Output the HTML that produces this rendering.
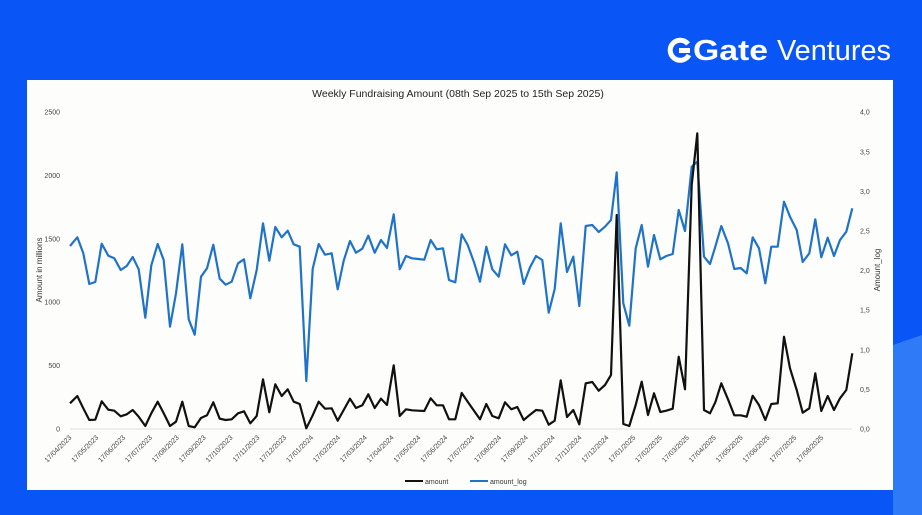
<!DOCTYPE html><html><head><meta charset="utf-8"><style>
body{margin:0;width:922px;height:515px;overflow:hidden;background:#0a55f5;font-family:"Liberation Sans",sans-serif}
</style></head><body>
<svg width="922" height="515" xmlns="http://www.w3.org/2000/svg" style="position:absolute;left:0;top:0">
<rect width="922" height="515" fill="#0a55f5"/>
<polygon points="893,345 922,335 922,515 893,515" fill="#2f7af7"/>
<rect x="27" y="80" width="866" height="410" fill="#fdfdfb"/>
<g fill="#fff">
<path d="M688,44 A10,10 0 1 0 689,55" fill="none" stroke="#fff" stroke-width="5"/>
<rect x="679" y="48" width="11" height="5"/>
<text x="693" y="60" font-size="29" font-weight="bold" textLength="75" lengthAdjust="spacingAndGlyphs">Gate</text>
<text x="777" y="60" font-size="29" textLength="114" lengthAdjust="spacingAndGlyphs">Ventures</text>
</g>
<text x="458" y="97" font-size="10.5" text-anchor="middle" fill="#222">Weekly Fundraising Amount (08th Sep 2025 to 15th Sep 2025)</text>
<g font-size="7" fill="#444" id="ticks"></g>
<text transform="translate(42,270) rotate(-90)" font-size="8" text-anchor="middle" fill="#333">Amount in millions</text>
<text transform="translate(880,270) rotate(-90)" font-size="8" text-anchor="middle" fill="#333">Amount_log</text>
<line x1="70" y1="429" x2="852" y2="429" stroke="#ddd" stroke-width="1"/>
<polyline id="blue" fill="none" stroke="#1f73c8" stroke-width="2.2" stroke-linejoin="round"/>
<polyline id="black" fill="none" stroke="#111" stroke-width="2.2" stroke-linejoin="round"/>
<line x1="405" y1="481" x2="423" y2="481" stroke="#111" stroke-width="2"/>
<text x="425" y="484" font-size="7" fill="#333">amount</text>
<line x1="470" y1="481" x2="488" y2="481" stroke="#1f73c8" stroke-width="2"/>
<text x="490" y="484" font-size="7" fill="#333">amount_log</text>
</svg>
<script>
var ns="http://www.w3.org/2000/svg";
var b3=[[30,198],[52,172],[70,220],[88,312],[106,306],[125,191],[145,227],[163,235],[182,270],[200,258],[218,231],[236,268],[256,413],[274,256],[293,192],[311,240],[330,440],[348,340],[367,193],[386,418],[404,464],[423,290],[441,265],[460,194],[479,296],[497,314],[515,305],[534,250],[552,238],[571,355],[590,270],[609,130],[628,242],[646,141],[665,172],[683,152],[701,193],[719,200],[739,603],[758,266],[776,192]];
var k3=[[30,670],[52,648],[70,685],[88,720],[106,719],[125,664],[145,689],[163,692],[182,709],[200,703],[218,690],[236,710],[256,738],[274,700],[293,665],[311,700],[330,738],[348,725],[367,665],[386,738],[404,742],[423,714],[441,706],[460,667],[479,716],[497,720],[515,718],[534,700],[552,694],[571,730],[590,708],[609,598],[628,697],[646,613],[665,648],[683,628],[701,665],[719,672],[739,745],[758,706],[776,665]];
var b4=[[15,224],[35,220],[53,328],[71,242],[90,183],[108,218],[127,206],[145,167],[164,218],[183,180],[201,204],[221,103],[239,268],[258,228],[276,235],[295,237],[313,239],[332,180],[350,208],[369,205],[387,300],[406,307],[425,163],[443,195],[462,247],[480,305],[499,200],[517,268],[536,290],[555,193],[574,226],[592,215],[611,312],[630,262],[648,228],[667,240],[686,398],[704,327],[722,130],[741,276],[760,230],[778,378]];
var k4=[[15,686],[35,685],[53,722],[71,690],[90,656],[108,684],[127,676],[145,643],[164,684],[183,656],[201,675],[221,556],[239,708],[258,688],[276,691],[295,692],[313,693],[332,655],[350,676],[369,676],[387,718],[406,718],[425,639],[443,665],[462,692],[480,718],[499,672],[517,708],[536,715],[555,667],[574,688],[592,681],[611,720],[630,704],[648,690],[667,692],[686,734],[704,722],[722,601],[741,711],[760,690],[778,733]];
var b5=[[17,318],[37,315],[56,336],[75,320],[93,300],[110,157],[130,550],[148,617],[167,385],[185,315],[204,440],[222,345],[241,418],[259,408],[278,402],[296,270],[315,333],[335,140],[352,125],[372,410],[390,432],[406,380],[424,318],[444,370],[463,447],[482,444],[500,460],[518,352],[537,385],[556,490],[574,380],[593,380],[612,245],[630,290],[650,330],[668,426],[688,400],[706,298],[724,412],[743,353],[762,408],[780,360],[799,335],[817,265]];
var k5=[[17,790],[37,786],[56,812],[75,795],[93,765],[110,285],[130,912],[148,918],[167,855],[185,785],[204,885],[222,820],[241,876],[259,872],[278,866],[296,710],[315,808],[335,195],[352,40],[372,870],[390,880],[406,847],[424,790],[444,838],[463,886],[482,886],[500,890],[518,827],[537,855],[556,900],[574,852],[593,850],[612,650],[630,745],[650,810],[668,878],[688,865],[706,760],[724,873],[743,828],[762,870],[780,835],[799,810],[817,700]];
function conv(a,ox,oy){return a.map(p=>(ox+p[0]/3).toFixed(1)+","+(oy+p[1]/3).toFixed(1));}
document.getElementById("blue").setAttribute("points",conv(b3,60,180).concat(conv(b4,320,180),conv(b5,580,120)).join(" "));
document.getElementById("black").setAttribute("points",conv(k3,60,180).concat(conv(k4,320,180),conv(k5,580,120)).join(" "));
var g=document.getElementById("ticks");
function t(x,y,s,anchor,rot){var e=document.createElementNS(ns,"text");e.setAttribute("x",x);e.setAttribute("y",y);e.setAttribute("text-anchor",anchor);if(rot)e.setAttribute("transform","rotate(-45 "+x+" "+y+")");e.textContent=s;g.appendChild(e);}
for(var i=0;i<=5;i++){var y=429-i*63.4;t(60,y+2.5,String(i*500),"end");}
for(var i=0;i<=8;i++){var y=429-i*39.6;t(860,y+2.5,(i/2).toFixed(1).replace(".",","),"start");}
var m=4,yr=2023;
for(var i=0;i<29;i++){var x=72+i*26.85;var s="17/"+(m<10?"0":"")+m+"/"+yr;t(x,438,s,"end",true);m++;if(m>12){m=1;yr++;}}
</script>
</body></html>
